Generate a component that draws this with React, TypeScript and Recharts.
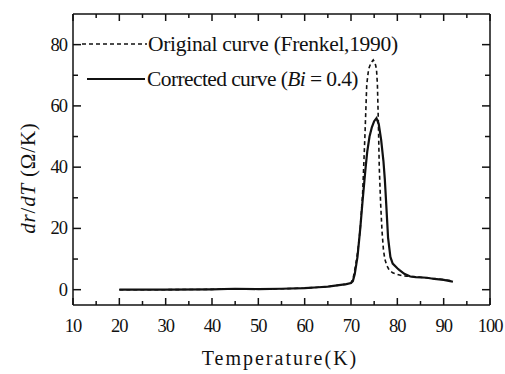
import { LineChart, Line, XAxis, YAxis } from 'recharts';

// Temperature (K) / dr/dT (Ω/K) samples for each curve
const originalTemp = [20, 30, 40, 45, 50, 55, 60, 63, 65, 67, 69, 70, 70.5, 71, 71.5, 72, 72.5, 73, 73.4, 73.8, 74.3, 74.8, 75.2, 75.5, 75.7, 75.9, 76.1, 76.4, 76.7, 77, 77.3, 77.7, 78.2, 79, 80, 81, 82, 84, 86, 88, 90, 92];
const originalDrdT = [0, 0, 0.1, 0.3, 0.2, 0.3, 0.5, 0.8, 1, 1.4, 1.8, 2.2, 4, 8, 13, 20, 31, 50, 67, 72, 74, 75, 74, 72, 67, 55, 40, 28, 19, 13, 10, 8, 6.5, 5.5, 5, 4.6, 4.4, 4.2, 3.9, 3.6, 3.3, 2.8];

const correctedTemp = [20, 30, 40, 45, 50, 55, 60, 63, 65, 67, 69, 70, 70.4, 70.8, 71.4, 72, 72.5, 73.1, 73.5, 74, 74.5, 75, 75.5, 76, 76.5, 77, 77.3, 77.6, 78, 78.5, 79, 80, 80.4, 81.5, 82.8, 84, 86.4, 88, 90, 91.4, 92];
const correctedDrdT = [0, 0, 0.1, 0.3, 0.2, 0.3, 0.5, 0.8, 1, 1.4, 1.8, 2.2, 2.8, 5, 10.7, 20, 29, 39, 45, 50, 53, 55, 56, 54, 49, 42, 36, 28, 17, 10.7, 8.5, 7, 6.5, 5.2, 4.3, 4.1, 3.9, 3.5, 3.2, 2.8, 2.6];

const xTicks = [10, 15, 20, 25, 30, 35, 40, 45, 50, 55, 60, 65, 70, 75, 80, 85, 90, 95, 100];
const yTicks = [0, 10, 20, 30, 40, 50, 60, 70, 80];

const legendItems = ['Original curve (Frenkel,1990)', 'Corrected curve'];

const originalData = originalTemp.map((t, i) => ({ t, v: originalDrdT[i] }));
const correctedData = correctedTemp.map((t, i) => ({ t, v: correctedDrdT[i] }));

const INK = '#111';
const SERIF = '"Liberation Serif", "DejaVu Serif", serif';

const BottomTick = ({ x, y, payload }: any) => {
  const major = payload.value % 10 === 0;
  return (
    <g>
      <line x1={x} x2={x} y1={y} y2={y - (major ? 7 : 4)} stroke={INK} strokeWidth={1.5} />
      {major && (
        <text x={x} y={y + 27} textAnchor="middle" fontFamily={SERIF} fontSize={18.5} letterSpacing={-1} fill={INK}>
          {payload.value}
        </text>
      )}
    </g>
  );
};

const TopTick = ({ x, y, payload }: any) => {
  const major = payload.value % 10 === 0;
  return <line x1={x} x2={x} y1={y} y2={y + (major ? 7 : 4)} stroke={INK} strokeWidth={1.5} />;
};

const LeftTick = ({ x, y, payload }: any) => {
  const major = payload.value % 20 === 0;
  return (
    <g>
      <line x1={x} x2={x + (major ? 8 : 5)} y1={y} y2={y} stroke={INK} strokeWidth={1.5} />
      {major && (
        <text x={x - 6} y={y + 6} textAnchor="end" fontFamily={SERIF} fontSize={18.5} letterSpacing={-1} fill={INK}>
          {payload.value}
        </text>
      )}
    </g>
  );
};

const RightTick = ({ x, y, payload }: any) => {
  const major = payload.value % 20 === 0;
  return <line x1={x} x2={x - (major ? 8 : 5)} y1={y} y2={y} stroke={INK} strokeWidth={1.5} />;
};

const axisLine = { stroke: INK, strokeWidth: 1.5 };

export default function App() {
  return (
    <div style={{ position: 'absolute', left: 0, top: 0, width: 505, height: 374, background: '#fff' }}>
      <LineChart width={505} height={374} margin={{ top: 13, right: 14, bottom: 68, left: 72 }}>
        <XAxis
          xAxisId="bottom"
          dataKey="t"
          type="number"
          domain={[10, 100]}
          ticks={xTicks}
          interval={0}
          height={1}
          tickSize={0}
          tickMargin={0}
          tick={<BottomTick />}
          axisLine={axisLine}
          allowDataOverflow
        />
        <XAxis
          xAxisId="top"
          orientation="top"
          dataKey="t"
          type="number"
          domain={[10, 100]}
          ticks={xTicks}
          interval={0}
          height={1}
          tickSize={0}
          tickMargin={0}
          tick={<TopTick />}
          axisLine={axisLine}
          allowDataOverflow
        />
        <YAxis
          yAxisId="left"
          type="number"
          domain={[-5, 90]}
          ticks={yTicks}
          interval={0}
          width={1}
          tickSize={0}
          tickMargin={0}
          tick={<LeftTick />}
          axisLine={axisLine}
          allowDataOverflow
        />
        <YAxis
          yAxisId="right"
          orientation="right"
          type="number"
          domain={[-5, 90]}
          ticks={yTicks}
          interval={0}
          width={1}
          tickSize={0}
          tickMargin={0}
          tick={<RightTick />}
          axisLine={axisLine}
          allowDataOverflow
        />
        <Line
          xAxisId="bottom"
          yAxisId="left"
          data={originalData}
          dataKey="v"
          type="linear"
          stroke={INK}
          strokeWidth={1.6}
          strokeDasharray="4 3"
          dot={false}
          isAnimationActive={false}
        />
        <Line
          xAxisId="bottom"
          yAxisId="left"
          data={correctedData}
          dataKey="v"
          type="linear"
          stroke={INK}
          strokeWidth={2.2}
          dot={false}
          isAnimationActive={false}
        />
      </LineChart>
      {/* legend inside the plot frame */}
      <svg width={505} height={100} style={{ position: 'absolute', left: 0, top: 0 }}>
        <line x1={82} x2={147} y1={44} y2={44} stroke={INK} strokeWidth={1.5} strokeDasharray="4 3" />
        <text x={148} y={51} fontFamily={SERIF} fontSize={21.5} letterSpacing={-0.3} fill={INK}>
          {legendItems[0]}
        </text>
        <line x1={87} x2={145} y1={79} y2={79} stroke={INK} strokeWidth={1.8} />
        <text x={147} y={86} fontFamily={SERIF} fontSize={21.5} letterSpacing={-0.6} fill={INK}>
          {legendItems[1]} (<tspan fontStyle="italic">Bi</tspan> = 0.4)
        </text>
      </svg>
      <div
        style={{
          position: 'absolute',
          left: 0,
          width: 560,
          top: 347,
          textAlign: 'center',
          fontFamily: SERIF,
          fontSize: 20,
          letterSpacing: 2,
          color: INK,
        }}
      >
        Temperature(K)
      </div>
      <div
        style={{
          position: 'absolute',
          left: 28,
          top: 178,
          transform: 'translate(-50%, -50%) rotate(-90deg)',
          whiteSpace: 'nowrap',
          fontFamily: SERIF,
          fontSize: 21,
          letterSpacing: 0.8,
          color: INK,
        }}
      >
        <i>dr</i>/<i>dT</i> (Ω/K)
      </div>
    </div>
  );
}
